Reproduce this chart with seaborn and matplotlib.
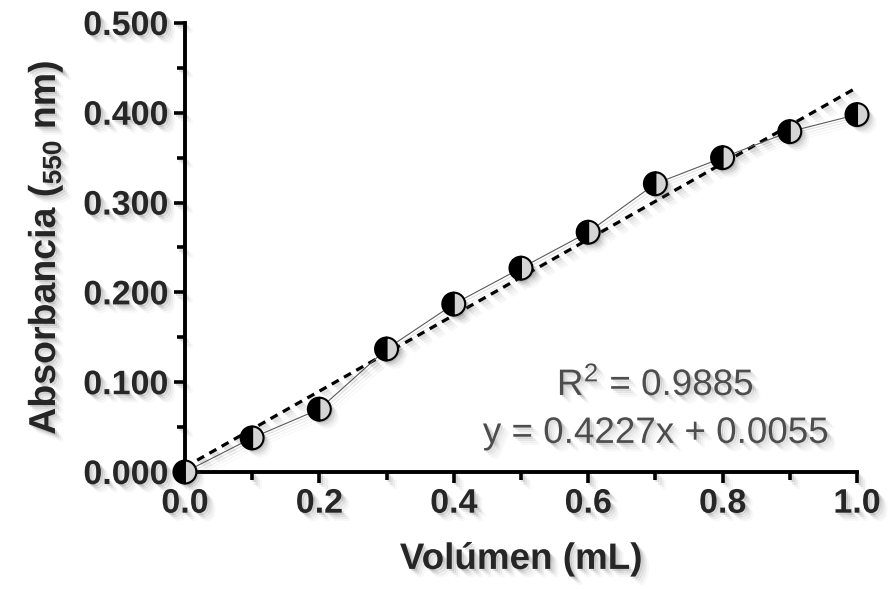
import matplotlib
matplotlib.use("Agg")
import matplotlib.pyplot as plt
import matplotlib.patheffects as pe
from matplotlib.ticker import MultipleLocator, FormatStrFormatter
import numpy as np
import pandas as pd
import seaborn as sns

# Calibration data
volumen = [0.0, 0.1, 0.2, 0.3, 0.4, 0.5, 0.6, 0.7, 0.8, 0.9, 1.0]
absorbancia = [0.000, 0.038, 0.070, 0.137, 0.187, 0.227, 0.267, 0.321, 0.350, 0.379, 0.398]

# Linear fit as reported
slope = 0.4227
intercept = 0.0055
r2 = 0.9885
fit_x = [0.0, 1.0]

sns.set_theme(style="ticks")
plt.rcParams["font.family"] = ["Liberation Sans", "DejaVu Sans"]
plt.rcParams["mathtext.default"] = "regular"

df = pd.DataFrame({"x": volumen, "y": absorbancia})
fit_df = pd.DataFrame({"x": fit_x, "y": [slope * v + intercept for v in fit_x]})

fig = plt.figure(figsize=(8.89, 5.89), dpi=100)
ax = fig.add_axes([0.208, 0.1986, 0.756, 0.7624])


def soft_shadow(kind="patch"):
    effects = []
    for off, a in [((1.5, -1.5), 0.18), ((3, -3), 0.12), ((4.5, -4.5), 0.07), ((6, -6), 0.04)]:
        if kind == "patch":
            effects.append(pe.SimplePatchShadow(offset=off, shadow_rgbFace="0.35", alpha=a))
        else:
            effects.append(pe.SimpleLineShadow(offset=off, shadow_color="0.35", alpha=a))
    effects.append(pe.Normal())
    return effects


# regression line
sns.lineplot(data=fit_df, x="x", y="y", ax=ax, color="black", lw=2.3,
             dashes=False, linestyle=(0, (2.5, 1.9)), clip_on=False)
# connecting line
sns.lineplot(data=df, x="x", y="y", ax=ax, color="0.35", lw=0.8, clip_on=False)
# half-filled markers
sns.lineplot(data=df, x="x", y="y", ax=ax, linestyle="", marker="o", markersize=16.5,
             markeredgecolor="black", markeredgewidth=1.5, color="black", clip_on=False)

lines = ax.get_lines()
lines[0].set_path_effects(soft_shadow("line"))
lines[1].set_path_effects(soft_shadow("line"))
mk = lines[2]
mk.set_fillstyle("left")
mk.set_markerfacecolor("black")
mk.set_markerfacecoloralt("#d4d4d4")
mk.set_path_effects(soft_shadow("patch"))
mk.set_zorder(5)

ax.set_xlim(0, 1.0)
ax.set_ylim(0, 0.5)
ax.xaxis.set_major_locator(MultipleLocator(0.2))
ax.xaxis.set_minor_locator(MultipleLocator(0.1))
ax.yaxis.set_major_locator(MultipleLocator(0.1))
ax.yaxis.set_minor_locator(MultipleLocator(0.05))
ax.xaxis.set_major_formatter(FormatStrFormatter("%.1f"))
ax.yaxis.set_major_formatter(FormatStrFormatter("%.3f"))

sns.despine(ax=ax)
for s in ["left", "bottom"]:
    ax.spines[s].set_linewidth(2.8)
    ax.spines[s].set_color("black")
    ax.spines[s].set_path_effects(soft_shadow("patch"))

ax.tick_params(which="major", length=8, width=2.6, color="black", labelsize=24.5, pad=4)
ax.tick_params(which="minor", length=6, width=2.6, color="black")
for lbl in ax.get_xticklabels() + ax.get_yticklabels():
    lbl.set_fontweight("bold")
    lbl.set_path_effects(soft_shadow("patch"))
for t in ax.xaxis.get_major_ticks() + ax.xaxis.get_minor_ticks() + \
        ax.yaxis.get_major_ticks() + ax.yaxis.get_minor_ticks():
    t.tick1line.set_path_effects(soft_shadow("line"))

ax.set_xlabel("Volúmen (mL)", fontsize=26.5, fontweight="bold", labelpad=16,
              path_effects=soft_shadow("patch"))
ax.set_ylabel("Absorbancia ($_{550}$ nm)", fontsize=27, fontweight="bold", labelpad=13,
              path_effects=soft_shadow("patch"))

ax.text(0.70, 0.194, f"R$^{{2}}$ = {r2:.4f}", transform=ax.transAxes, ha="center",
        va="center", fontsize=26.5, color="0.3", path_effects=soft_shadow("patch"))
ax.text(0.70, 0.086, f"y = {slope:.4f}x + {intercept:.4f}", transform=ax.transAxes,
        ha="center", va="center", fontsize=26.5, color="0.3",
        path_effects=soft_shadow("patch"))

fig.savefig("out.png", dpi=100, facecolor="white")
